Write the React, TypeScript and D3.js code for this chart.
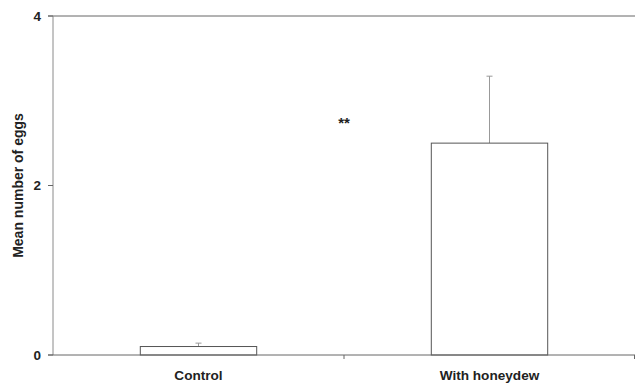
import React from "react";
import * as d3 from "d3";

const categories = ["Control", "With honeydew"];
const means = [0.1, 2.5];
const errors = [0.04, 0.79];
const yTicks = [0, 2, 4];
const annotation = "**";

export default function App() {
  const W = 635, H = 385;
  const left = 53, right = 635, top = 16, bottom = 355;
  const x = d3.scaleBand<string>().domain(categories).range([left, right]).paddingInner(0.6).paddingOuter(0.3);
  const y = d3.scaleLinear().domain([0, 4]).range([bottom, top]);
  const axisColor = "#8a8a8a";
  const font = "Liberation Sans, Arial, sans-serif";
  const midX = (x(categories[0]) as number) + x.bandwidth() / 2 + x.step() / 2;
  return (
    <svg width={W} height={H} style={{ position: "absolute", left: 0, top: 0 }}>
      <rect width={W} height={H} fill="#fff" />
      <line x1={48} x2={right} y1={y(4)} y2={y(4)} stroke="#666" strokeWidth={1} />
      <line x1={left} x2={left} y1={top} y2={bottom} stroke={axisColor} strokeWidth={1} />
      {yTicks.map((t) => (
        <g key={t}>
          <line x1={48} x2={left} y1={y(t)} y2={y(t)} stroke="#666" />
          <text x={41} y={y(t)} dy="0.36em" textAnchor="end" fontFamily={font} fontSize={13.5} fontWeight="bold" fill="#222">
            {t}
          </text>
        </g>
      ))}
      {categories.map((c, i) => {
        const cx = (x(c) as number) + x.bandwidth() / 2;
        return (
          <g key={"e" + c}>
            <line x1={cx} x2={cx} y1={y(means[i])} y2={y(means[i] + errors[i])} stroke="#999" strokeWidth={1} />
            <line x1={cx - 3} x2={cx + 3} y1={y(means[i] + errors[i])} y2={y(means[i] + errors[i])} stroke="#999" strokeWidth={1} />
          </g>
        );
      })}
      {categories.map((c, i) => (
        <rect
          key={c}
          x={x(c)}
          y={y(means[i])}
          width={x.bandwidth()}
          height={y(0) - y(means[i])}
          fill="#fff"
          stroke="#555"
          strokeWidth={1}
        />
      ))}
      <line x1={48} x2={right} y1={bottom} y2={bottom} stroke="#666" strokeWidth={1} />
      {[midX, right - 0.5].map((tx, i) => (
        <line key={i} x1={tx} x2={tx} y1={bottom} y2={bottom + 4} stroke="#666" />
      ))}
      {categories.map((c) => (
        <text key={"l" + c} x={(x(c) as number) + x.bandwidth() / 2} y={380} textAnchor="middle" fontFamily={font} fontSize={13.6} fontWeight="bold" fill="#222">
          {c}
        </text>
      ))}
      <text
        transform={`translate(23, ${(top + bottom) / 2}) rotate(-90)`}
        textAnchor="middle"
        fontFamily={font}
        fontSize={14}
        fontWeight="bold"
        fill="#222"
      >
        Mean number of eggs
      </text>
      <text x={midX} y={128} textAnchor="middle" fontFamily={font} fontSize={15} fontWeight="bold" fill="#222">
        {annotation}
      </text>
    </svg>
  );
}
